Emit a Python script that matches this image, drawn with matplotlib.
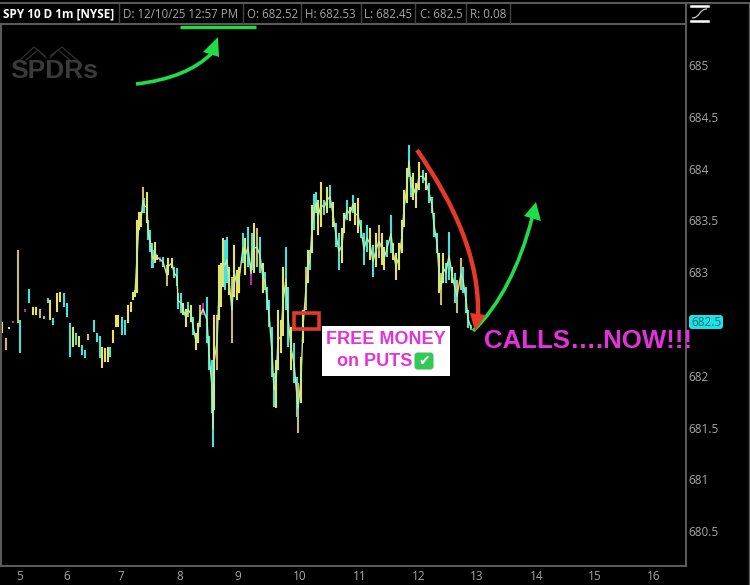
import matplotlib
matplotlib.use('Agg')
import matplotlib.pyplot as plt
from matplotlib.patches import PathPatch, Polygon, Rectangle, FancyBboxPatch
from matplotlib.path import Path

# hora do pregao e posicao da barra no grafico
hour_pos = [19.6, 67, 120.6, 180, 238, 300, 360, 419, 477, 537, 595, 654]
hour_labels = ['5', '6', '7', '8', '9', '10', '11', '12', '13', '14', '15', '16']
price_ticks = [685, 684.5, 684, 683.5, 683, 682.5, 682, 681.5, 681, 680.5]
price_labels = ['685', '684.5', '684', '683.5', '683', '', '682', '681.5', '681', '680.5']

bars = [2, 6, 9, 13, 18, 20, 25, 29, 33, 36, 40, 44, 48, 50, 53, 57, 60, 64, 67, 70,
        73, 76, 79, 82, 85, 88, 94, 97, 100, 102, 105, 108, 110, 113, 116, 118, 122, 125, 128, 131,
        133, 135, 137, 139, 141, 143, 144, 147, 148, 150, 152, 153, 155, 157, 160, 163, 167, 168, 172, 174,
        177, 178, 181, 183, 186, 188, 191, 193, 196, 198, 200, 203, 207, 209, 212, 213, 214, 217, 219, 221,
        223, 225, 227, 229, 232, 234, 237, 239, 243, 245, 248, 251, 252, 254, 257, 260, 263, 265, 267, 269,
        272, 274, 276, 278, 281, 283, 286, 288, 291, 294, 297, 298, 301, 303, 306, 308, 310, 312, 314, 316,
        318, 321, 324, 327, 330, 333, 336, 339, 342, 344, 347, 350, 353, 355, 358, 361, 364, 367, 370, 373,
        376, 379, 382, 384, 387, 391, 393, 396, 399, 402, 404, 407, 409, 411, 413, 416, 419, 423, 426, 429,
        432, 434, 437, 439, 441, 443, 446, 449, 452, 455, 457, 461, 463, 466, 468, 471]
highs = [682.52, 682.37, 682.47, 682.53, 683.21, 682.54, 682.65, 682.84, 682.66, 682.66, 682.65, 682.58, 682.75, 682.73, 682.56, 682.80, 682.81, 682.80, 682.70, 682.51,
         682.47, 682.41, 682.38, 682.30, 682.25, 682.40, 682.54, 682.41, 682.38, 682.28, 682.27, 682.28, 682.28, 682.44, 682.59, 682.59, 682.57, 682.54, 682.68, 682.71,
         682.81, 682.83, 683.50, 683.58, 683.58, 683.82, 683.72, 683.77, 683.50, 683.41, 683.28, 683.21, 683.29, 683.17, 683.15, 683.15, 683.07, 683.14, 683.14, 683.05,
         683.04, 682.80, 682.80, 682.70, 682.65, 682.71, 682.68, 682.57, 682.41, 682.51, 682.68, 682.70, 682.76, 682.38, 682.15, 681.67, 682.59, 682.59, 683.07, 683.09,
         683.33, 683.31, 683.34, 683.05, 682.95, 683.26, 683.02, 683.05, 683.38, 683.33, 683.44, 683.09, 683.38, 683.48, 683.43, 683.34, 683.09, 683.00, 682.86, 682.73,
         682.47, 682.03, 682.15, 682.64, 682.54, 683.05, 683.24, 682.86, 682.47, 682.32, 681.99, 681.93, 682.18, 682.64, 683.05, 683.21, 683.21, 683.65, 683.76, 683.77,
         683.70, 683.87, 683.70, 683.82, 683.84, 683.68, 683.48, 683.38, 683.43, 683.57, 683.70, 683.63, 683.75, 683.67, 683.72, 683.50, 683.38, 683.46, 683.43, 683.26,
         683.38, 683.46, 683.38, 683.24, 683.31, 683.55, 683.28, 683.19, 683.28, 683.50, 683.79, 684.01, 684.23, 683.92, 683.96, 683.86, 684.06, 683.99, 683.96, 683.86,
         683.73, 683.57, 683.38, 683.19, 682.99, 683.19, 683.09, 683.39, 683.05, 682.99, 682.93, 683.14, 683.05, 682.86, 682.64, 682.49]
lows = [682.41, 682.25, 682.45, 682.51, 682.51, 682.22, 682.62, 682.70, 682.59, 682.59, 682.56, 682.55, 682.70, 682.54, 682.49, 682.62, 682.71, 682.66, 682.57, 682.18,
        682.28, 682.30, 682.28, 682.20, 682.17, 682.35, 682.42, 682.33, 682.17, 682.08, 682.13, 682.13, 682.18, 682.32, 682.47, 682.47, 682.39, 682.39, 682.51, 682.62,
        682.73, 682.76, 682.80, 683.41, 683.44, 683.57, 683.57, 683.48, 683.31, 683.20, 683.04, 683.04, 683.09, 683.12, 683.10, 683.05, 682.87, 682.97, 683.04, 682.94,
        682.87, 682.65, 682.61, 682.59, 682.47, 682.57, 682.52, 682.39, 682.25, 682.32, 682.47, 682.59, 682.32, 682.06, 681.64, 681.31, 681.67, 682.06, 682.54, 682.66,
        682.86, 682.83, 682.90, 682.78, 682.32, 682.76, 682.73, 682.80, 683.09, 682.97, 683.05, 682.88, 683.02, 682.99, 683.05, 682.99, 682.80, 682.83, 682.64, 682.47,
        681.99, 681.70, 681.69, 682.06, 682.22, 682.38, 682.64, 682.28, 682.06, 681.93, 681.60, 681.45, 681.74, 682.32, 682.64, 682.90, 683.02, 683.19, 683.41, 683.57,
        683.36, 683.44, 683.55, 683.57, 683.62, 683.44, 683.24, 683.02, 683.09, 683.38, 683.50, 683.49, 683.57, 683.46, 683.38, 683.33, 683.07, 683.20, 683.12, 682.95,
        683.05, 683.14, 683.07, 683.02, 683.15, 683.19, 683.12, 682.93, 683.02, 683.19, 683.44, 683.67, 683.92, 683.73, 683.70, 683.62, 683.79, 683.86, 683.79, 683.67,
        683.57, 683.34, 683.19, 682.80, 682.68, 682.90, 682.90, 682.93, 682.90, 682.70, 682.61, 682.83, 682.80, 682.61, 682.46, 682.44]
bar_colors = ('ytymtcmcyytccycyyccc' 'ycycctcccyyycyyyccyy' 'yyyyytcyccccyymctyyc'
              'cccyycycyytmccccytyy' 'yccytyyycycmcytcyccc' 'ccyyyyccycctyytycycc'
              'yycycyccyycycyycccyc' 'ytyyccyyyyyyccyyycyc' 'cccytyccycttcccg')

palette = {'y': '#ece25a', 'c': '#3fe4de', 't': '#cdb96e', 'm': '#b526b8', 'g': '#22d85a'}
grey = '#a6a6a6'
magenta = '#e332dc'
green = '#1fdc48'
red = '#e5392a'

fig = plt.figure(figsize=(7.5, 5.85), dpi=100, facecolor='black')

# grafico principal
ax = fig.add_axes([1 / 750, (585 - 566) / 585, 685 / 750, 542 / 585], facecolor='black')
ax.set_xlim(1, 686)
ax.set_ylim(680.165, 685.396)
ax.vlines(bars, lows, highs, colors=[palette[c] for c in bar_colors], linewidth=1.5)
# liga as barras a partir das 7h, onde o grafico fica continuo
start = bars.index(133)
ax.plot(bars[start:], [(h + l) / 2 for h, l in zip(highs[start:], lows[start:])],
        color='#b8efa8', lw=1.0)
ax.yaxis.tick_right()
ax.set_yticks(price_ticks, price_labels)
ax.set_xticks(hour_pos, hour_labels)
ax.tick_params(length=0, colors=grey, labelsize=8.5, pad=3)
ax.tick_params(axis='y', pad=2)
ax.tick_params(axis='x', pad=3)
for label in ax.get_xticklabels() + ax.get_yticklabels():
    label.set_family('Open Sans')
for s in ax.spines.values():
    s.set_color('#5a5a5a')
    s.set_linewidth(1.5)
ax.spines['top'].set_visible(False)

# camada em pixels para cabecalho e anotacoes
ov = fig.add_axes([0, 0, 1, 1], facecolor='none')
ov.set_xlim(0, 750)
ov.set_ylim(585, 0)
ov.axis('off')

# cabecalho
ov.plot([0, 750], [2.5, 2.5], color='#5a5a5a', lw=1.5)
ov.plot([0, 686], [23.5, 23.5], color='#5a5a5a', lw=1.5)
ov.plot([686, 686], [2.5, 24], color='#5a5a5a', lw=1.5)
ov.plot([749, 749], [2.5, 585], color='#5a5a5a', lw=1.0)
for sep in [119, 243, 301, 361, 415, 466, 510]:
    ov.plot([sep, sep], [4, 23], color='#444444', lw=1)
ov.text(3, 14, 'SPY 10 D 1m [NYSE]', color='white', fontsize=8.5, fontweight='bold',
        family='Open Sans', va='center')
for xpos, txt in [(123, 'D: 12/10/25 12:57 PM'), (247, 'O: 682.52'), (305, 'H: 682.53'),
                  (364, 'L: 682.45'), (420, 'C: 682.5'), (470, 'R: 0.08')]:
    ov.text(xpos, 14, txt, color=grey, fontsize=8.3, family='Open Sans', va='center')

# icone no canto
ov.plot([691, 708], [6, 6], color='white', lw=1.8)
ov.plot([691, 708], [21, 21], color='white', lw=1.8)
ov.add_patch(PathPatch(Path([(692, 18), (700, 18), (699, 9), (707, 9)],
                            [Path.MOVETO, Path.CURVE4, Path.CURVE4, Path.CURVE4]),
                       fc='none', ec='#cccccc', lw=0.9))

# logo
ov.text(10, 71, 'SPDRs', color='#3a3a3a', fontsize=19, fontweight='bold',
        family='Liberation Sans', va='center')
for leg in [[(20, 60), (34, 47), (45, 56)], [(26, 60), (38, 50), (46, 58)],
            [(77, 60), (62, 47), (50, 56)], [(70, 60), (58, 50), (50, 58)]]:
    ov.plot(*zip(*leg), color='#333333', lw=0.8)

# marcacoes
ov.plot([180, 256], [27, 27], color=green, lw=2.4, solid_capstyle='butt')


def arrow(p0, p1, p2, p3, head, color, lw):
    ov.add_patch(PathPatch(Path([p0, p1, p2, p3], [Path.MOVETO, Path.CURVE4, Path.CURVE4, Path.CURVE4]),
                           fc='none', ec=color, lw=lw, capstyle='butt'))
    ov.add_patch(Polygon(head, closed=True, fc=color, ec='none'))


arrow((136, 84), (170, 80), (195, 70), (212, 53), [(218, 37), (203, 52), (219, 57)], green, 2.6)
arrow((473, 331), (500, 305), (520, 265), (532, 218), [(536, 202), (524, 216), (541, 221)], green, 2.6)
arrow((417, 150), (455, 205), (480, 260), (478, 318), [(475, 331), (470, 313), (486, 315)], red, 3.2)
ov.add_patch(Rectangle((294, 313), 25, 16, fc='none', ec=red, lw=2.6))

# caixa branca
ov.add_patch(Rectangle((322, 326), 128, 50, fc='white', ec='none'))
ov.text(386, 339, 'FREE MONEY', color=magenta, fontsize=13, fontweight='bold',
        family='Liberation Sans', ha='center', va='center')
ov.text(337, 361, 'on PUTS', color=magenta, fontsize=13, fontweight='bold',
        family='Liberation Sans', ha='left', va='center')
ov.add_patch(FancyBboxPatch((416, 354), 16, 14, boxstyle='round,pad=1.5,rounding_size=3', fc='#35c859', ec='none'))
ov.text(424, 361, '\u2714', color='white', fontsize=10, family='DejaVu Sans', ha='center', va='center')

ov.text(484, 341, 'CALLS\u2026.NOW!!!', color=magenta, fontsize=18.6, fontweight='bold',
        family='Liberation Sans', va='center')

# etiqueta do preco atual
ov.add_patch(FancyBboxPatch((690, 316), 32, 12, boxstyle='round,pad=1,rounding_size=3', fc='#1fe0e6', ec='none'))
ov.text(706, 322.5, '682.5', color='#0b6f78', fontsize=8.5, family='Open Sans', ha='center', va='center')

fig.savefig('out.png', dpi=100, facecolor='black')
